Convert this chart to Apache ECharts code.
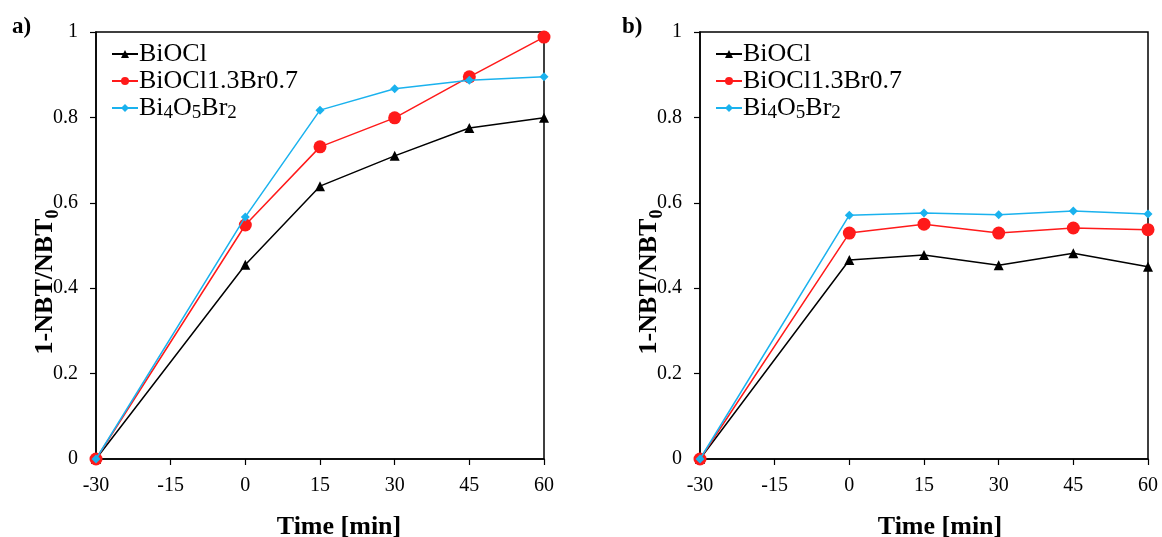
<!DOCTYPE html>
<html>
<head>
<meta charset="utf-8">
<script src="https://cdn.jsdelivr.net/npm/echarts@6/dist/echarts.min.js"></script>
<style>
html,body{margin:0;padding:0;background:#fff;}
#chart{width:1162px;height:537px;}
</style>
</head>
<body>
<div id="chart"></div>
<script>
const times = [-30, 0, 15, 30, 45, 60];
const seriesNames = ['BiOCl', 'BiOCl1.3Br0.7', 'Bi4O5Br2'];
const aBiOCl = [0, 0.455, 0.639, 0.710, 0.775, 0.799];
const aBiOClBr = [0, 0.548, 0.731, 0.799, 0.895, 0.988];
const aBi4O5Br2 = [0, 0.567, 0.817, 0.867, 0.887, 0.895];
const bBiOCl = [0, 0.466, 0.478, 0.454, 0.482, 0.450];
const bBiOClBr = [0, 0.529, 0.550, 0.529, 0.541, 0.537];
const bBi4O5Br2 = [0, 0.571, 0.576, 0.572, 0.581, 0.574];
const xTicks = {min: -30, max: 60, interval: 15};
const yTicks = {min: 0, max: 1, interval: 0.2};

const FONT = "'Liberation Serif', 'Times New Roman', serif";
const colors = ['#000000', '#ff1a1a', '#1ab2ee'];
const symbols = ['triangle', 'circle', 'diamond'];
const symbolSizes = [10, 13, 9];

function pairs(ys) { return times.map((t, i) => [t, ys[i]]); }

const legendRich = {
  n: {fontFamily: FONT, fontSize: 26, lineHeight: 26, verticalAlign: 'top', color: '#000'},
  sub: {fontFamily: FONT, fontSize: 19, lineHeight: 19, verticalAlign: 'top', padding: [9, 0, 0, 0], color: '#000'}
};
function legendFmt(name) {
  if (name === 'Bi4O5Br2') return '{n|Bi}{sub|4}{n|O}{sub|5}{n|Br}{sub|2}';
  return '{n|' + name + '}';
}

function makeAxisX(gi) {
  return {
    type: 'value', gridIndex: gi, min: xTicks.min, max: xTicks.max, interval: xTicks.interval,
    axisLine: {show: true, onZero: false, lineStyle: {color: '#000', width: 1.5}},
    axisTick: {show: true, inside: false, length: 6, lineStyle: {color: '#000', width: 1.2}},
    axisLabel: {fontFamily: FONT, fontSize: 20, color: '#000', margin: 17},
    splitLine: {show: false}
  };
}
function makeAxisY(gi) {
  return {
    type: 'value', gridIndex: gi, min: yTicks.min, max: yTicks.max, interval: yTicks.interval,
    axisLine: {show: true, onZero: false, lineStyle: {color: '#000', width: 1.5}},
    axisTick: {show: true, inside: false, length: 6, lineStyle: {color: '#000', width: 1.2}},
    axisLabel: {fontFamily: FONT, fontSize: 20, color: '#000', margin: 18},
    splitLine: {show: false}
  };
}

const panelData = [[aBiOCl, aBiOClBr, aBi4O5Br2], [bBiOCl, bBiOClBr, bBi4O5Br2]];
const series = [];
panelData.forEach((set, gi) => {
  set.forEach((ys, k) => {
    series.push({
      type: 'line', name: seriesNames[k], xAxisIndex: gi, yAxisIndex: gi,
      data: pairs(ys), symbol: symbols[k], symbolSize: symbolSizes[k],
      itemStyle: {color: colors[k]}, lineStyle: {color: colors[k], width: 1.5},
      z: 2 + k, animation: false
    });
  });
});

function legend(left) {
  return {
    orient: 'vertical', left: left, top: 36, itemGap: 1, itemWidth: 26, itemHeight: 10,
    data: seriesNames, formatter: legendFmt, selectedMode: false,
    textStyle: {fontFamily: FONT, fontSize: 26, color: '#000', rich: legendRich, padding: [0, 0, 0, -4]}
  };
}

function yTitle(x) {
  return {
    type: 'text', x: x, y: 282, rotation: Math.PI / 2,
    style: {
      text: '{m|1-NBT/NBT}{s|0}',
      align: 'center', verticalAlign: 'middle',
      rich: {
        m: {fontFamily: FONT, fontSize: 26, fontWeight: 'bold', lineHeight: 26, verticalAlign: 'top', fill: '#000'},
        s: {fontFamily: FONT, fontSize: 18, fontWeight: 'bold', lineHeight: 18, verticalAlign: 'top', padding: [12, 0, 0, 0], fill: '#000'}
      }
    }
  };
}
function xTitle(x) {
  return {
    type: 'text', x: x, y: 527,
    style: {text: 'Time [min]', fontFamily: FONT, fontSize: 26, fontWeight: 'bold', fill: '#000', align: 'center', verticalAlign: 'middle'}
  };
}
function panelLabel(x, t) {
  return {
    type: 'text', x: x, y: 27,
    style: {text: t, fontFamily: FONT, fontSize: 23, fontWeight: 'bold', fill: '#000', align: 'left', verticalAlign: 'middle'}
  };
}

const option = {
  backgroundColor: '#fff',
  animation: false,
  grid: [
    {left: 96, right: 618, top: 32, bottom: 78, show: true, borderColor: '#000', borderWidth: 1.5, backgroundColor: 'transparent'},
    {left: 700, right: 14, top: 32, bottom: 78, show: true, borderColor: '#000', borderWidth: 1.5, backgroundColor: 'transparent'}
  ],
  xAxis: [makeAxisX(0), makeAxisX(1)],
  yAxis: [makeAxisY(0), makeAxisY(1)],
  legend: [legend(106), legend(710)],
  series: series,
  graphic: [yTitle(45), yTitle(649), xTitle(339), xTitle(940), panelLabel(12, 'a)'), panelLabel(622, 'b)')]
};

const chart = echarts.init(document.getElementById('chart'), null, {renderer: 'canvas'});
chart.setOption(option);
</script>
</body>
</html>
